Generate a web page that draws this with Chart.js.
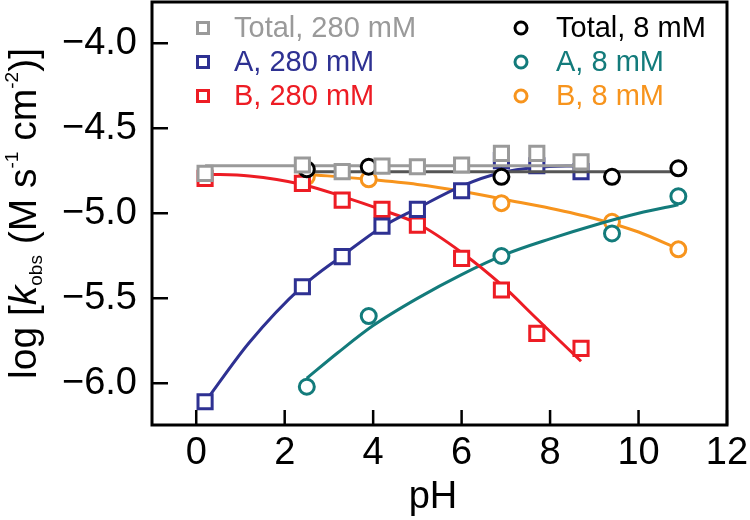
<!DOCTYPE html>
<html>
<head>
<meta charset="utf-8">
<script src="https://cdn.jsdelivr.net/npm/chart.js@4/dist/chart.umd.min.js"></script>
<style>
  html, body { margin: 0; padding: 0; background: #fff; }
</style>
</head>
<body>
<canvas id="grafico" width="750" height="520"></canvas>
<script>
// measured points, 280 mM
const phHigh = [0.2, 2.4, 3.3, 4.2, 5.0, 6.0, 6.9, 7.7, 8.7];
const totalHigh = [-4.765, -4.716, -4.755, -4.722, -4.726, -4.716, -4.647, -4.647, -4.697];
const aHigh = [-6.108, -5.432, -5.255, -5.075, -4.977, -4.867, -4.69, -4.72, -4.755];
const bHigh = [-4.794, -4.824, -4.922, -4.977, -5.069, -5.265, -5.451, -5.706, -5.794];

// measured points, 8 mM
const phLow = [2.5, 3.9, 6.9, 9.4, 10.9];
const totalLow = [-4.741, -4.726, -4.785, -4.785, -4.735];
const aLow = [-6.02, -5.604, -5.251, -5.118, -4.90];
const bLow = [-4.785, -4.80, -4.94, -5.05, -5.212];

// fitted curves
const fitTotalHighX = [0.2, 8.7];
const fitTotalHighY = [-4.72, -4.72];
const fitTotalLowX = [2.5, 10.9];
const fitTotalLowY = [-4.755, -4.755];
const fitHighX = [0.2, 1.2, 2.4, 3.3, 4.2, 5.0, 6.0, 6.9, 7.7, 8.7];
const fitAHighY = [-6.11, -5.76, -5.43, -5.25, -5.08, -4.97, -4.84, -4.76, -4.73, -4.72];
const fitBHighY = [-4.77, -4.78, -4.83, -4.90, -4.98, -5.06, -5.23, -5.42, -5.62, -5.87];
const fitALowX = [2.5, 3.2, 4.0, 5.0, 6.0, 7.0, 8.0, 9.0, 10.0, 10.9];
const fitALowY = [-5.97, -5.82, -5.66, -5.50, -5.36, -5.24, -5.15, -5.07, -5.00, -4.95];
const fitBLowX = [2.5, 3.9, 5.0, 6.0, 7.0, 8.0, 9.0, 10.0, 10.9];
const fitBLowY = [-4.77, -4.80, -4.83, -4.87, -4.92, -4.97, -5.03, -5.11, -5.21];

const xTicks = [0, 2, 4, 6, 8, 10, 12];
const yTicks = [-6.0, -5.5, -5.0, -4.5, -4.0];

const legendLeft = ["Total, 280 mM", "A, 280 mM", "B, 280 mM"];
const legendRight = ["Total, 8 mM", "A, 8 mM", "B, 8 mM"];

const colores = {
  gris: "#9a9a9a",
  grisOscuro: "#555555",
  negro: "#000000",
  azul: "#2e3192",
  rojo: "#ed1c24",
  verde: "#137b7b",
  naranja: "#f7941d"
};

const FONT = "'Liberation Sans', Arial, sans-serif";

function pares(xs, ys) {
  return xs.map((v, i) => ({ x: v, y: ys[i] }));
}

function puntos(xs, ys, color, estilo) {
  return {
    data: pares(xs, ys),
    showLine: false,
    pointStyle: estilo,
    pointRadius: estilo === "rect" ? 10 : 7.5,
    pointBorderWidth: 3,
    pointBorderColor: color,
    pointBackgroundColor: "#ffffff",
    pointHoverRadius: estilo === "rect" ? 10 : 7.5
  };
}

function ajuste(xs, ys, color) {
  return {
    data: pares(xs, ys),
    showLine: true,
    borderColor: color,
    borderWidth: 3,
    pointRadius: 0,
    tension: 0.4,
    cubicInterpolationMode: "monotone",
    fill: false
  };
}

// first dataset ends up on top
const datasets = [
  puntos(phHigh, totalHigh, colores.gris, "rect"),
  puntos(phLow, totalLow, colores.negro, "circle"),
  ajuste(fitTotalHighX, fitTotalHighY, colores.gris),
  ajuste(fitTotalLowX, fitTotalLowY, colores.grisOscuro),
  puntos(phHigh, aHigh, colores.azul, "rect"),
  ajuste(fitHighX, fitAHighY, colores.azul),
  puntos(phHigh, bHigh, colores.rojo, "rect"),
  ajuste(fitHighX, fitBHighY, colores.rojo),
  puntos(phLow, aLow, colores.verde, "circle"),
  ajuste(fitALowX, fitALowY, colores.verde),
  puntos(phLow, bLow, colores.naranja, "circle"),
  ajuste(fitBLowX, fitBLowY, colores.naranja)
];

function textoRico(ctx, partes, x0) {
  let x = x0;
  partes.forEach(p => {
    ctx.font = (p.italic ? "italic " : "") + p.size + "px " + FONT;
    ctx.fillText(p.t, x, p.dy || 0);
    x += ctx.measureText(p.t).width;
  });
}

function anchoRico(ctx, partes) {
  let w = 0;
  partes.forEach(p => {
    ctx.font = (p.italic ? "italic " : "") + p.size + "px " + FONT;
    w += ctx.measureText(p.t).width;
  });
  return w;
}

const decoracion = {
  id: "decoracion",
  afterDatasetsDraw(chart) {
    const { ctx, chartArea: a, scales: { x, y } } = chart;
    ctx.save();

    // frame and inward ticks
    ctx.strokeStyle = "#000";
    ctx.lineWidth = 3;
    ctx.strokeRect(a.left, a.top, a.right - a.left, a.bottom - a.top);
    ctx.lineWidth = 2.5;
    ctx.beginPath();
    xTicks.forEach(v => {
      const px = x.getPixelForValue(v);
      ctx.moveTo(px, a.bottom);
      ctx.lineTo(px, a.bottom - 15);
    });
    yTicks.forEach(v => {
      const py = y.getPixelForValue(v);
      ctx.moveTo(a.left, py);
      ctx.lineTo(a.left + 16, py);
    });
    ctx.stroke();

    // legend
    const filas = [28, 62, 96];
    const izq = [colores.gris, colores.azul, colores.rojo];
    const der = [colores.negro, colores.verde, colores.naranja];
    ctx.lineWidth = 3;
    ctx.textBaseline = "middle";
    ctx.font = "29px " + FONT;
    filas.forEach((fy, i) => {
      ctx.strokeStyle = izq[i];
      ctx.strokeRect(203 - 5.5, fy - 5.5, 11, 11);
      ctx.fillStyle = izq[i];
      ctx.fillText(legendLeft[i], 234, fy + 1);

      ctx.strokeStyle = der[i];
      ctx.beginPath();
      ctx.arc(521, fy, 6, 0, Math.PI * 2);
      ctx.stroke();
      ctx.fillStyle = der[i];
      ctx.fillText(legendRight[i], 556, fy + 1);
    });

    // axis titles
    ctx.fillStyle = "#000";
    ctx.textBaseline = "alphabetic";
    ctx.font = "38px " + FONT;
    ctx.textAlign = "center";
    ctx.fillText("pH", 433, 508);
    ctx.textAlign = "left";

    const partes = [
      { t: "log [", size: 39 },
      { t: "k", size: 39, italic: true },
      { t: "obs", size: 19, dy: 6 },
      { t: " (M s", size: 39 },
      { t: "-1", size: 19, dy: -18 },
      { t: " cm", size: 39 },
      { t: "-2", size: 19, dy: -18 },
      { t: ")]", size: 39 }
    ];
    ctx.translate(36, (a.top + a.bottom) / 2);
    ctx.rotate(-Math.PI / 2);
    const w = anchoRico(ctx, partes);
    textoRico(ctx, partes, -w / 2);

    ctx.restore();
  }
};

const ctx = document.getElementById("grafico").getContext("2d");

new Chart(ctx, {
  type: "scatter",
  data: { datasets: datasets },
  options: {
    responsive: false,
    animation: false,
    layout: { autoPadding: false, padding: { top: 2, right: 23, left: 0, bottom: 0 } },
    plugins: {
      legend: { display: false },
      tooltip: { enabled: false }
    },
    scales: {
      x: {
        type: "linear",
        min: -1,
        max: 12,
        afterBuildTicks: s => { s.ticks = xTicks.map(v => ({ value: v })); },
        afterFit: s => {
          s.height = 95;
          s.paddingLeft = 0;
          s.paddingRight = 0;
        },
        grid: { display: false, drawTicks: false },
        border: { display: false },
        ticks: {
          color: "#000",
          font: { family: FONT, size: 38 },
          padding: 6,
          maxRotation: 0,
          autoSkip: false
        }
      },
      y: {
        type: "linear",
        min: -6.245,
        max: -3.757,
        afterBuildTicks: s => { s.ticks = yTicks.map(v => ({ value: v })); },
        afterFit: s => {
          s.width = 152;
          s.paddingTop = 0;
          s.paddingBottom = 0;
        },
        grid: { display: false, drawTicks: false },
        border: { display: false },
        ticks: {
          color: "#000",
          font: { family: FONT, size: 38 },
          padding: 15,
          callback: v => (v < 0 ? "\u2212" : "") + Math.abs(v).toFixed(1)
        }
      }
    }
  },
  plugins: [decoracion]
});
</script>
</body>
</html>
